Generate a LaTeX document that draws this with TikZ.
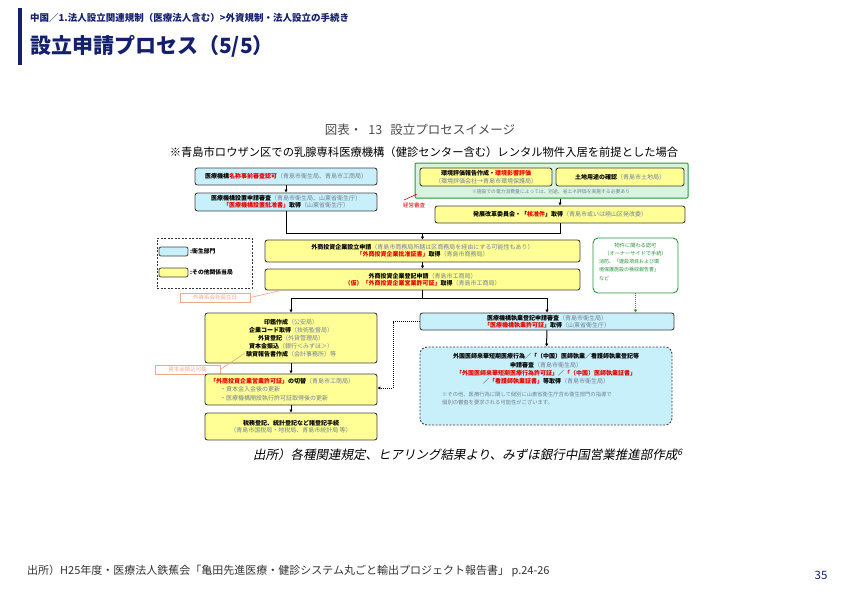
\documentclass[tikz,border=0pt]{standalone}
\usepackage{fontspec}
\setmainfont{Noto Sans CJK JP}
\newfontfamily\jpsl[FakeSlant=0.2]{Noto Sans CJK JP}
\usetikzlibrary{arrows.meta,calc}
\definecolor{navy}{RGB}{20,32,110}
\definecolor{bfill}{RGB}{200,240,250}
\definecolor{yfill}{RGB}{255,255,150}
\definecolor{gfill}{RGB}{215,245,222}
\definecolor{gline}{RGB}{40,150,60}
\definecolor{pgray}{RGB}{115,128,150}
\definecolor{hred}{RGB}{230,0,0}
\definecolor{peach}{RGB}{238,170,140}
\newcommand{\gy}[1]{{\mdseries\color{pgray}#1}}
\newcommand{\rd}[1]{{\color{hred}#1}}
\begin{document}
\begin{tikzpicture}[x=1pt,y=-1pt,
 box/.style={draw=black!75, line width=0.9pt, rounded corners=2.5pt, inner sep=1pt,
   font=\fontsize{6}{7.4}\selectfont\bfseries, align=center},
 bbox/.style={box, fill=bfill},
 ybox/.style={box, fill=yfill},
 arr/.style={line width=1pt, -{Latex[length=3pt,width=3.5pt]}},
 ln/.style={line width=1pt},
 tag/.style={draw=peach, line width=0.7pt, text=peach, inner sep=0.5pt, font=\fontsize{5.5}{6}\selectfont},
 txt/.style={inner sep=0pt, font=\fontsize{6}{8.2}\selectfont\bfseries},
]
\useasboundingbox (0,0) rectangle (842,595);
% slide header
\fill[navy] (18,8) rectangle (22,65);
\node[anchor=west, inner sep=0pt, text=navy, font=\fontsize{9.5}{10}\selectfont\bfseries] (crumb) at (30,18) {中国／1.法人設立関連規制（医療法人含む）>外資規制・法人設立の手続き};
\node[anchor=west, inner sep=0pt, text=navy, font=\fontsize{21}{23}\selectfont\bfseries] (title) at (30,46) {設立申請プロセス（5/5）};
% captions
\node[inner sep=0pt, text=black!70, font=\fontsize{12.5}{13}\selectfont] (cap) at (420,130) {図表・\hspace{6pt}13\hspace{8pt}設立プロセスイメージ};
\node[inner sep=0pt, font=\fontsize{11.3}{12}\selectfont] (sub) at (424,152) {※青島市ロウザン区での乳腺専科医療機構（健診センター含む）レンタル物件入居を前提とした場合};
% left top
\node[bbox, minimum width=182pt, minimum height=17pt] (B1) at (286,176.5) {医療機構\rd{名称事前審査認可}\gy{（青島市衛生局、青島市工商局）}};
\node[bbox, minimum width=182pt, minimum height=18pt] (B2) at (286,202) {医療機構設置申請審査\gy{（青島市衛生局、山東省衛生庁）}\\\rd{「医療機構設置批准書」}取得\gy{（山東省衛生庁）}};
% green container
\node[draw=gline, fill=gfill, line width=1pt, rounded corners=1pt, minimum width=273pt, minimum height=35pt, inner sep=0pt] (G) at (551.5,180.5) {};
\node[ybox, minimum width=132pt, minimum height=18pt] (G1) at (486,177) {環境評価報告作成・\rd{環境影響評価}\\\gy{（環境評価会社→青島市環境保護局）}};
\node[ybox, minimum width=128pt, minimum height=18pt] (G2) at (620,177) {土地用途の確認\gy{（青島市土地局）}};
\node[inner sep=0pt, text=pgray, font=\fontsize{4.8}{5}\selectfont] (Gn) at (551,192) {※施設での電力消費量によっては、別途、省エネ評価を実施する必要あり};
\node[ybox, minimum width=250pt, minimum height=17pt] (B4) at (560,214.5) {発展改革委員会・「\rd{核准件}」取得\gy{（青島市或いは嶗山区発改委）}};
\node[inner sep=0pt, text=hred, font=\fontsize{5.5}{6}\selectfont] (keiei) at (414,205) {経営審査};
\draw[hred, line width=0.6pt, -{Latex[length=2pt,width=2pt]}] (404,200) -- (417,194);
% middle
\node[ybox, minimum width=315pt, minimum height=22pt] (B5) at (422.5,251) {外商投資企業設立申請\gy{（青島市商務局所轄は区商務局を経由にする可能性もあり）}\\\rd{「外商投資企業批准証書」}取得\gy{（青島市商務局）}};
\node[ybox, minimum width=315pt, minimum height=21pt] (B6) at (422.5,279.5) {外商投資企業登記申請\gy{（青島市工商局）}\\\rd{（仮）「外商投資企業営業許可証」}取得\gy{（青島市工商局）}};
% legend
\node[draw=black!80, line width=0.9pt, dash pattern=on 2pt off 1.5pt, minimum width=95pt, minimum height=50pt, inner sep=0pt] (leg) at (204.5,263) {};
\node[draw=black!75, line width=0.8pt, fill=bfill, rounded corners=2pt, minimum width=29pt, minimum height=9pt, inner sep=0pt] (sw1) at (173.5,251.5) {};
\node[draw=black!75, line width=0.8pt, fill=yfill, rounded corners=2pt, minimum width=29pt, minimum height=9pt, inner sep=0pt] (sw2) at (173.5,272.5) {};
\node[anchor=west, inner sep=0pt, font=\fontsize{5.8}{6}\selectfont\bfseries] (lg1) at (190,251.5) {:衛生部門};
\node[anchor=west, inner sep=0pt, font=\fontsize{5.8}{6}\selectfont\bfseries] (lg2) at (190,272.5) {:その他関係当局};
\node[tag, minimum width=70pt, minimum height=9pt] (T1) at (215,297.5) {外資系会社設立日};
\draw[peach, line width=0.7pt] (T1.east) -- (283,290);
% green right
\node[draw=gline, line width=0.9pt, fill=white, rounded corners=5pt, minimum width=85pt, minimum height=55pt, inner sep=0pt] (G13) at (635.5,265.5) {};
\node[inner sep=0pt, text=gline, font=\fontsize{5.2}{8.5}\selectfont, align=center] (g13a) at (635.5,249.5) {物件に関わる認可\\（オーナーサイドで手続）};
\node[inner sep=0pt, text=gline, font=\fontsize{5}{8.3}\selectfont, align=left, anchor=north west] (g13b) at (599,259) {消防、「建設項目および環\\境保護施設の検収報告書」\\など};
% lower left
\node[ybox, minimum width=172pt, minimum height=50pt, font=\fontsize{6}{8}\selectfont\bfseries] (B9) at (291,338) {印鑑作成\gy{（公安局）}\\企業コード取得\gy{（技術監督局）}\\外貨登記\gy{（外貨管理局）}\\資本金振込\gy{（銀行＜みずほ＞）}\\験資報告書作成\gy{（会計事務所）等}};
\node[tag, minimum width=65pt, minimum height=9pt] (T2) at (187.5,369.5) {資本金振込可能};
\draw[peach, line width=0.7pt] (T2.east) -- (245,353);
\node[ybox, minimum width=172pt, minimum height=31pt] (B11) at (291,389.5) {};
\node[txt, anchor=west, align=left] (B11t) at (210,389.5) {\rd{「外商投資企業営業許可証」}の切替\gy{（青島市工商局）}\\\hspace*{10pt}\gy{・資本金入金後の更新}\\\hspace*{10pt}\gy{・医療機構開設執行許可証取得後の更新}};
\node[ybox, minimum width=172pt, minimum height=27pt] (B12) at (291,426.5) {税務登記、統計登記など諸登記手続\\\gy{（青島市国税局・地税局、青島市統計局 等）}};
% lower right
\node[bbox, minimum width=254pt, minimum height=17pt] (B14) at (547,321.5) {医療機構執業登記申請審査\gy{（青島市衛生局）}\\\rd{「医療機構執業許可証」}取得\gy{（山東省衛生庁）}};
\node[draw=black!75, line width=0.9pt, dash pattern=on 2pt off 1.5pt, fill=bfill, rounded corners=7pt, minimum width=252pt, minimum height=78pt, inner sep=0pt] (B15) at (546,386) {};
\node[txt, align=center] (B15a) at (546,369) {外国医師来華短期医療行為／「（中国）医師執業／看護師執業登記等\\申請審査\gy{（青島市衛生局）}\\\rd{「外国医師来華短期医療行為許可証」}／\rd{「（中国）医師執業証書」}\\／\rd{「看護師執業証書」}等取得\gy{（青島市衛生局）}};
\node[inner sep=0pt, text=pgray, font=\fontsize{5.3}{7.5}\selectfont, align=left, anchor=north west] (B15b) at (442,392) {※その他、医療行為に関して個別に山東省衛生庁含め衛生部門の指導で\\個別の審査を要求される可能性がございます。};
% connectors
\draw[arr] (B1) -- (B2);
\draw[arr] (G.south -| B4.north) -- (B4.north);
\coordinate (j1) at (422.5,233);
\draw[ln] (B2.south) |- (j1);
\draw[ln] (B4.south) |- (j1);
\draw[arr] (j1) -- (B5.north);
\draw[arr] (B5) -- (B6);
\coordinate (j2) at (422.5,298);
\draw[ln] (B6.south) -- (j2);
\draw[ln] (B9.north |- j2) -- (B14.north |- j2);
\draw[arr] (B9.north |- j2) -- (B9.north);
\draw[arr] (B14.north |- j2) -- (B14.north);
\draw[arr] (B9) -- (B11);
\draw[arr] (B11) -- (B12);
\draw[arr] (B14) -- (B15);
\draw[arr, gline, dash pattern=on 1pt off 1pt] (G13.south) -- (G13.south |- B14.north);
\coordinate (d1) at (393,321.5);
\coordinate (d2) at (393,388);
\draw[arr, dash pattern=on 1pt off 1pt] (B14.west) -- (d1) -- (d2) -- (d2 -| B11.east);
% source
\node[inner sep=0pt, font=\jpsl\fontsize{12.5}{13}\selectfont] (src) at (468,455) {出所）各種関連規定、ヒアリング結果より、みずほ銀行中国営業推進部作成\textsuperscript{6}};
% footer
\node[anchor=west, inner sep=0pt, text=black!80, font=\fontsize{11}{12}\selectfont] (foot) at (27,571) {出所）H25年度・医療法人鉄蕉会「亀田先進医療・健診システム丸ごと輸出プロジェクト報告書」 p.24-26};
\node[inner sep=0pt, text=navy, font=\fontsize{11.5}{12}\selectfont] (pg) at (821,575) {35};
\end{tikzpicture}
\end{document}
